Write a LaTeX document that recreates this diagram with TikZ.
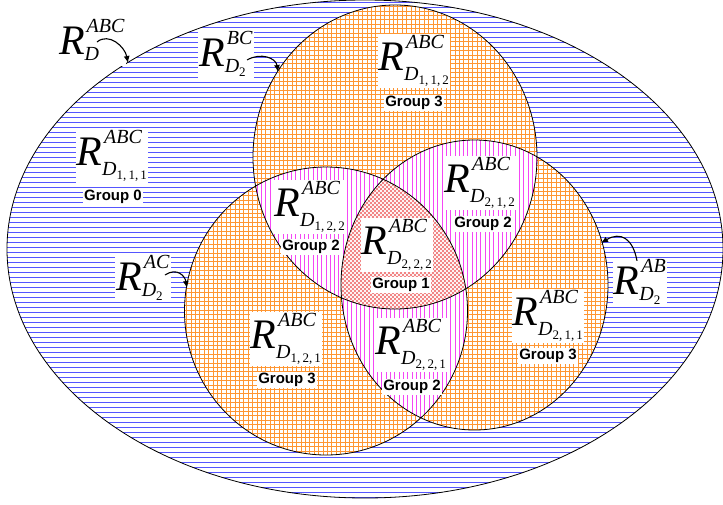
\documentclass[tikz,border=0pt]{standalone}
\usepackage{fontspec}
\setmainfont{Liberation Serif}
\newfontfamily\grpfont{Liberation Sans}
\usetikzlibrary{arrows.meta}
\DeclareMathSizes{42}{42}{20}{13}
\definecolor{hblue}{RGB}{85,85,255}
\definecolor{gorange}{RGB}{255,150,50}
\definecolor{vmagenta}{RGB}{245,70,245}
\definecolor{xred}{RGB}{240,110,110}
\newcommand\supfont{\fontsize{20}{20}\selectfont\itshape}
\newcommand\Dsub[1]{\mbox{\supfont D\raisebox{-4pt}{\upshape\fontsize{13}{13}\selectfont #1}}}
\newcommand\Rlab[2]{$\mbox{\itshape R}^{\raisebox{3pt}{\kern2pt\supfont #1}}_{#2}$}
\newcommand\Rset[1]{\Rlab{ABC}{\raisebox{-4pt}{\Dsub{#1}}}}
\tikzset{
  bluerule/.style={hblue, line width=0.7pt},
  orangerule/.style={gorange, line width=0.5pt},
  magentarule/.style={vmagenta, line width=0.7pt},
  redrule/.style={xred, line width=0.6pt},
  rlabel/.style={fill=white, inner sep=1pt, font=\fontsize{42}{42}\selectfont},
  grouplabel/.style={fill=white, inner sep=1pt, font=\grpfont\bfseries\fontsize{15}{15}\selectfont},
  pointer/.style={-{Latex[length=7pt,width=6pt]}, line width=1.1pt},
}
\def\ringouter{(365,249) ellipse [x radius=358, y radius=249]}
\def\ringtop{(395,157) ellipse [x radius=142, y radius=152]}
\def\ringleft{(326,311) ellipse [x radius=141.5, y radius=144]}
\def\ringright{(474.5,285) ellipse [x radius=133.5, y radius=145]}
\newcommand\orangegrid{%
  \foreach \xx in {182,186.4,...,612} \draw[orangerule] (\xx,0) -- (\xx,460);
  \foreach \yy in {2,6.4,...,460} \draw[orangerule] (182,\yy) -- (612,\yy);}
\newcommand\magentalines{\foreach \xx in {184,188.3,...,610} \draw[magentarule] (\xx,138) -- (\xx,458);}
\begin{document}
\begin{tikzpicture}[x=1pt,y=-1pt]
\useasboundingbox (0,0) rectangle (723,504);
% outside the three sets
\begin{scope}
  \clip \ringouter;
  \foreach \yy in {2,7,...,502} \draw[bluerule] (0,\yy) -- (723,\yy);
\end{scope}
% one set
\fill[white] \ringtop;
\fill[white] \ringleft;
\fill[white] \ringright;
\begin{scope}
  \clip \ringtop \ringleft \ringright;
  \orangegrid
\end{scope}
% two sets
\begin{scope}
  \clip \ringtop;
  \clip \ringleft;
  \fill[white] \ringleft;
  \magentalines
\end{scope}
\begin{scope}
  \clip \ringtop;
  \clip \ringright;
  \fill[white] \ringright;
  \magentalines
\end{scope}
\begin{scope}
  \clip \ringleft;
  \clip \ringright;
  \fill[white] \ringright;
  \magentalines
\end{scope}
% all three
\begin{scope}
  \clip \ringtop;
  \clip \ringleft;
  \clip \ringright;
  \fill[white] \ringright;
  \foreach \cc in {20,24,...,280} \draw[redrule] (\cc+150,150) -- (\cc+360,360);
  \foreach \cc in {530,534,...,790} \draw[redrule] (\cc-150,150) -- (\cc-360,360);
\end{scope}
\draw[line width=0.8pt] \ringouter \ringtop \ringleft \ringright;

\node[rlabel] (rd) at (92,42) {\Rlab{ABC}{\Dsub{}}};
\node[rlabel] (rbc) at (226,54) {\Rlab{BC}{\Dsub{2}}};
\node[rlabel] (rac) at (143,278) {\Rlab{AC}{\Dsub{2}}};
\node[rlabel] (rab) at (640,282) {\Rlab{AB}{\Dsub{2}}};

\node[rlabel] (r111) at (112,156) {\Rset{1,\,1,\,1}};
\node[grouplabel] (g111) at (113,197) {Group 0};
\node[rlabel] (r112) at (414,61) {\Rset{1,\,1,\,2}};
\node[grouplabel] (g112) at (414,103) {Group 3};
\node[rlabel] (r122) at (310,207) {\Rset{1,\,2,\,2}};
\node[grouplabel] (g122) at (311,247) {Group 2};
\node[rlabel] (r212) at (480,183) {\Rset{2,\,1,\,2}};
\node[grouplabel] (g212) at (483,224) {Group 2};
\node[rlabel] (r222) at (397,245) {\Rset{2,\,2,\,2}};
\node[grouplabel] (g222) at (401,285) {Group 1};
\node[rlabel] (r121) at (286,339) {\Rset{1,\,2,\,1}};
\node[grouplabel] (g121) at (287,380) {Group 3};
\node[rlabel] (r221) at (411,345) {\Rset{2,\,2,\,1}};
\node[grouplabel] (g221) at (412,387) {Group 2};
\node[rlabel] (r211) at (548,316) {\Rset{2,\,1,\,1}};
\node[grouplabel] (g211) at (548,356) {Group 3};

% pointers onto the borders
\coordinate (tipd) at (128,63);
\coordinate (tipbc) at (278,72);
\coordinate (tipac) at (187,288);
\coordinate (tipab) at (601,243);
\draw[pointer] ([xshift=5pt]rd.center) .. controls +(12,-10) and +(-3,-16) .. (tipd);
\draw[pointer] ([xshift=21pt,yshift=-6pt]rbc.center) .. controls +(14,-8) and +(-2,-14) .. (tipbc);
\draw[pointer] ([xshift=22pt,yshift=3pt]rac.center) .. controls +(12,-8) and +(-2,-12) .. (tipac);
\draw[pointer] ([xshift=-3pt,yshift=-3pt]rab.north) .. controls +(-4,-22) and +(20,-12) .. (tipab);
\end{tikzpicture}
\end{document}
